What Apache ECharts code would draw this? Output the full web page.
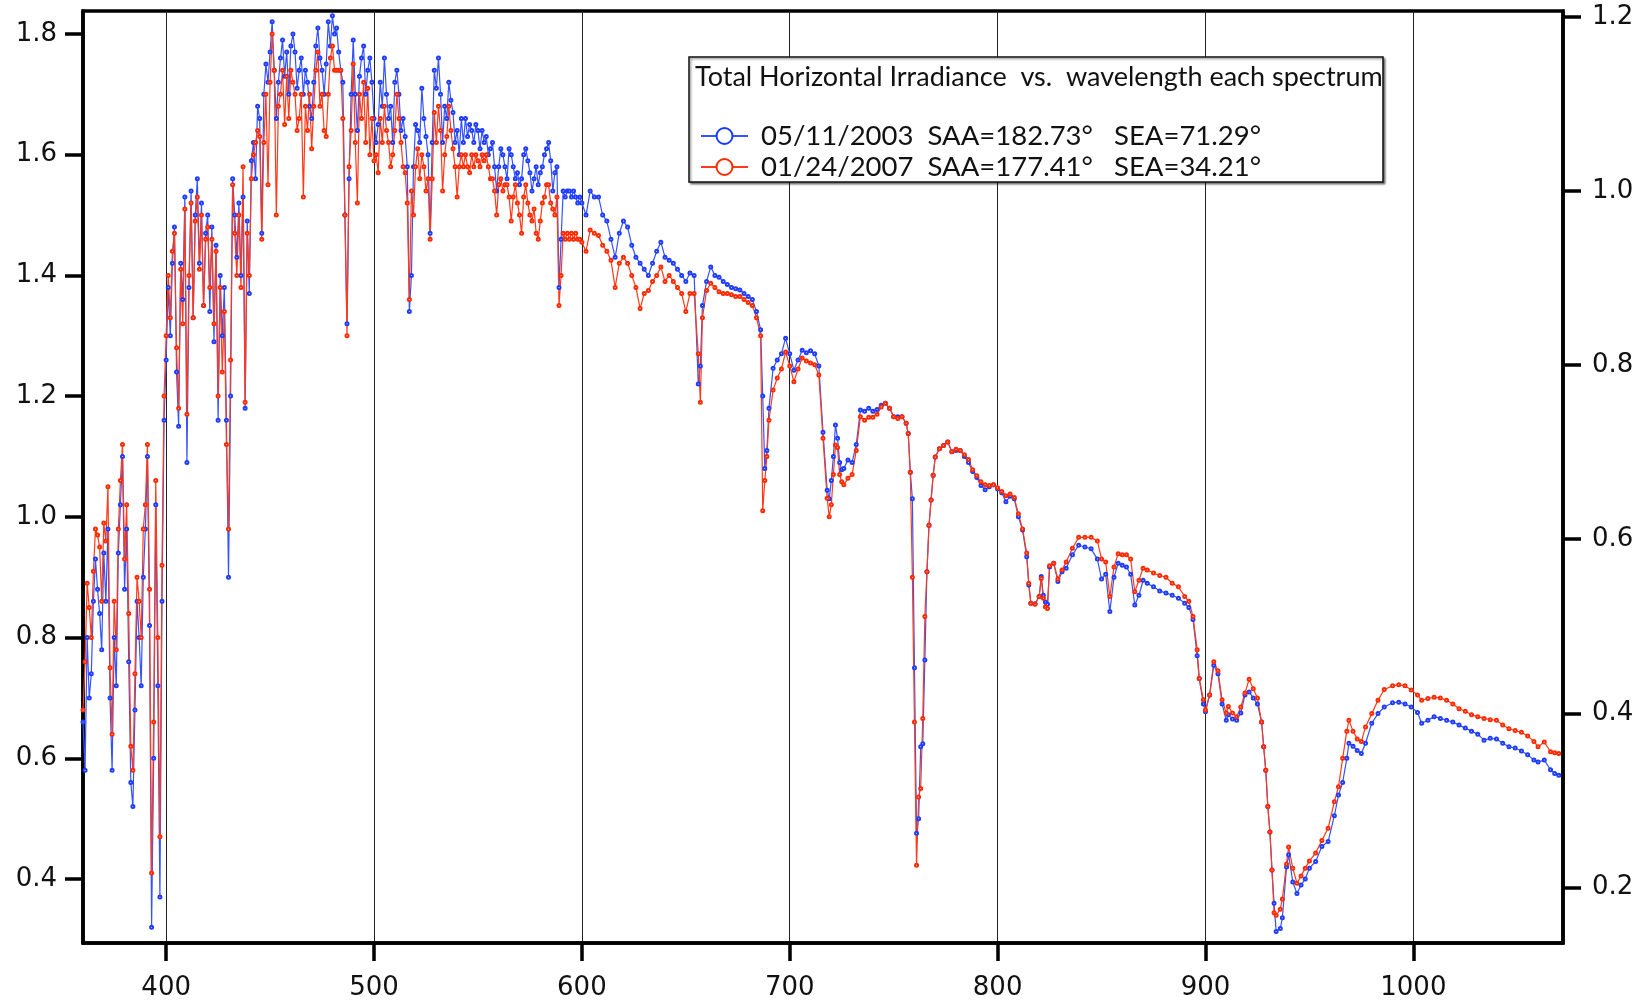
<!DOCTYPE html>
<html><head><meta charset="utf-8">
<script src="https://cdn.jsdelivr.net/npm/echarts@6/dist/echarts.min.js"></script>
<style>html,body{margin:0;padding:0;background:#fff}#chart{width:1650px;height:1005px}</style>
</head><body><div id="chart"></div>
<script>
// ---------- DATA ----------
const name2003 = '05/11/2003  SAA=182.73°   SEA=71.29°';
const name2007 = '01/24/2007  SAA=177.41°   SEA=34.21°';
const chartTitle = 'Total Horizontal Irradiance  vs.  wavelength each spectrum';

const xTicks = [400, 500, 600, 700, 800, 900, 1000];
const leftTicks = [0.4, 0.6, 0.8, 1.0, 1.2, 1.4, 1.6, 1.8];
const rightTicks = [0.2, 0.4, 0.6, 0.8, 1.0, 1.2];

const wavelengthsUV = [
360,361,362,363,364,365,366,367,368,369,
370,371,372,373,374,375,376,377,378,379,
380,381,382,383,384,385,386,387,388,389,
390,391,392,393,394,395,396,397,398,399,
400,401,402,403,404,405,406,407,408,409,
410,411,412,413,414,415,416,417,418,419,
420,421,422,423,424,425,426,427,428,429,
430,431,432,433,434,435,436,437,438,439,
440,441,442,443,444,445,446,447,448,449,
450,451,452,453,454,455,456,457,458,459,
460,461,462,463,464,465,466,467,468,469,
470,471,472,473,474,475,476,477,478,479,
480,481,482,483,484,485,486,487,488,489,
490,491,492,493,494,495,496,497,498,499,
500,501,502,503,504,505,506,507,508,509,
510,511,512,513,514,515,516,517,518,519,
520,521,522,523,524,525,526,527,528,529,
530,531,532,533,534,535,536,537,538,539,
540,541,542,543,544,545,546,547,548,549,
550,551,552,553,554,555,556,557,558,559,
560,561,562,563,564,565,566,567,568,569,
570,571,572,573,574,575,576,577,578,579,
580,581,582,583,584,585,586,587,588,589,
590,591,592,593,594,595,596,597,598,599,600];

const blueUV = [
0.66,0.58,0.80,0.70,0.74,0.86,0.93,0.88,0.84,0.78,
0.94,0.86,0.98,0.70,0.58,0.80,0.72,0.94,1.02,1.10,
0.88,0.98,0.76,0.56,0.52,0.68,0.86,0.80,0.72,0.90,
0.98,1.10,0.82,0.32,0.60,1.02,0.72,0.37,0.86,1.16,
1.26,1.38,1.30,1.42,1.48,1.24,1.15,1.42,1.36,1.53,
1.09,1.38,1.54,1.33,1.50,1.56,1.42,1.52,1.35,1.47,
1.50,1.34,1.48,1.29,1.45,1.16,1.40,1.30,1.38,1.16,
0.90,1.20,1.56,1.50,1.43,1.52,1.40,1.53,1.18,1.49,
1.37,1.59,1.62,1.56,1.68,1.66,1.47,1.70,1.75,1.72,
1.77,1.82,1.74,1.66,1.72,1.76,1.79,1.73,1.77,1.70,
1.78,1.80,1.77,1.71,1.74,1.76,1.70,1.74,1.72,1.68,
1.66,1.72,1.78,1.81,1.76,1.74,1.70,1.75,1.82,1.78,
1.83,1.80,1.81,1.77,1.74,1.72,1.50,1.32,1.56,1.70,
1.79,1.70,1.64,1.73,1.76,1.78,1.70,1.74,1.76,1.72,
1.66,1.62,1.65,1.72,1.68,1.76,1.70,1.66,1.68,1.62,
1.72,1.74,1.70,1.64,1.66,1.63,1.58,1.34,1.40,1.58,
1.65,1.64,1.62,1.71,1.66,1.63,1.60,1.47,1.62,1.74,
1.71,1.76,1.70,1.62,1.68,1.66,1.72,1.69,1.67,1.62,
1.64,1.60,1.66,1.62,1.66,1.63,1.65,1.64,1.62,1.65,
1.64,1.61,1.64,1.62,1.63,1.60,1.61,1.62,1.58,1.54,
1.58,1.61,1.60,1.58,1.56,1.61,1.60,1.58,1.56,1.57,
1.55,1.56,1.60,1.61,1.59,1.57,1.54,1.56,1.58,1.55,
1.57,1.58,1.60,1.61,1.62,1.59,1.54,1.57,1.58,1.38,
1.46,1.54,1.53,1.54,1.54,1.53,1.54,1.53,1.52,1.53,1.52];

const redUV = [
0.68,0.76,0.89,0.85,0.80,0.91,0.98,0.97,0.95,0.86,
0.99,0.96,1.05,0.75,0.64,0.86,0.78,0.98,1.06,1.12,
0.93,1.02,0.84,0.62,0.58,0.74,0.90,0.86,0.80,0.98,
1.02,1.12,0.88,0.41,0.66,1.06,0.80,0.47,0.92,1.20,
1.30,1.40,1.33,1.44,1.47,1.28,1.18,1.41,1.32,1.51,
1.17,1.40,1.52,1.33,1.49,1.53,1.41,1.50,1.35,1.46,
1.48,1.38,1.46,1.32,1.44,1.20,1.38,1.24,1.34,1.12,
0.98,1.26,1.55,1.47,1.40,1.50,1.38,1.58,1.19,1.47,
1.40,1.56,1.60,1.62,1.64,1.63,1.46,1.62,1.70,1.55,
1.72,1.80,1.74,1.50,1.68,1.70,1.74,1.65,1.73,1.66,
1.74,1.72,1.70,1.64,1.66,1.70,1.53,1.68,1.64,1.70,
1.61,1.68,1.74,1.77,1.68,1.70,1.64,1.63,1.70,1.76,
1.78,1.74,1.74,1.74,1.74,1.66,1.50,1.30,1.58,1.64,
1.75,1.62,1.52,1.70,1.66,1.72,1.62,1.71,1.60,1.66,
1.59,1.60,1.57,1.66,1.62,1.68,1.64,1.62,1.58,1.60,
1.64,1.70,1.66,1.62,1.58,1.57,1.52,1.36,1.54,1.50,
1.58,1.61,1.56,1.60,1.58,1.54,1.56,1.46,1.56,1.67,
1.62,1.68,1.64,1.54,1.60,1.63,1.68,1.64,1.61,1.58,
1.53,1.58,1.60,1.58,1.60,1.58,1.57,1.60,1.58,1.60,
1.59,1.58,1.60,1.59,1.60,1.58,1.56,1.56,1.54,1.50,
1.55,1.56,1.54,1.55,1.55,1.53,1.49,1.53,1.55,1.52,
1.50,1.47,1.53,1.55,1.52,1.50,1.49,1.51,1.47,1.46,
1.49,1.52,1.53,1.55,1.55,1.52,1.51,1.50,1.53,1.35,
1.40,1.47,1.46,1.47,1.46,1.47,1.46,1.47,1.46,1.46,1.455];

const wavelengthsNIR = [
602,604,606,608,610,612,614,616,618,620,
622,624,626,628,630,632,634,636,638,640,
642,644,646,648,650,652,654,656,657,658,
660,662,664,666,668,670,672,674,676,678,
680,682,684,686,687,688,689,690,692,694,
696,698,700,702,704,706,708,710,712,714,
716,718,719,720,721,722,723,724,725,726,
728,730,732,734,736,738,740,742,744,746,
748,750,752,754,756,757,758,759,760,761,
762,763,764,765,766,767,768,769,770,772,
774,776,778,780,782,784,786,788,790,792,
794,796,798,800,802,804,806,808,810,812,
814,815,816,818,820,821,822,823,824,825,
827,829,831,833,836,839,842,845,848,850,
852,854,856,858,860,862,864,866,868,870,
872,875,878,881,884,887,890,892,894,896,
897,899,900,902,904,906,908,910,911,913,
915,917,919,921,923,925,927,928,929,930,
931,932,933,934,936,937,939,940,942,944,
946,948,950,953,956,959,962,964,966,968,
969,971,973,975,977,980,983,986,990,993,
996,999,1002,1004,1007,1010,1013,1016,1019,1022,
1025,1028,1031,1034,1037,1040,1043,1046,1049,1052,
1055,1058,1060,1063,1066,1068,1070];

const blueNIR = [
1.50,1.54,1.53,1.53,1.50,1.49,1.46,1.43,1.47,1.49,
1.48,1.45,1.43,1.42,1.41,1.40,1.42,1.44,1.455,1.43,
1.425,1.42,1.41,1.40,1.39,1.404,1.40,1.22,1.25,1.35,
1.39,1.414,1.40,1.397,1.39,1.385,1.38,1.378,1.376,1.37,
1.365,1.36,1.34,1.31,1.20,1.08,1.11,1.18,1.246,1.26,
1.27,1.296,1.27,1.243,1.26,1.276,1.272,1.275,1.27,1.25,
1.14,1.044,1.03,1.06,1.10,1.152,1.13,1.09,1.078,1.08,
1.094,1.09,1.12,1.177,1.175,1.18,1.175,1.178,1.185,1.188,
1.18,1.166,1.166,1.166,1.155,1.138,1.074,1.03,0.75,0.476,
0.50,0.619,0.624,0.763,0.909,0.986,1.028,1.069,1.099,1.113,
1.118,1.124,1.108,1.11,1.11,1.10,1.09,1.075,1.065,1.052,
1.045,1.05,1.053,1.046,1.04,1.025,1.034,1.03,1.0,0.978,
0.934,0.887,0.857,0.856,0.868,0.901,0.87,0.859,0.855,0.917,
0.923,0.893,0.909,0.915,0.937,0.953,0.95,0.947,0.93,0.897,
0.905,0.843,0.90,0.923,0.92,0.917,0.905,0.854,0.87,0.895,
0.89,0.884,0.877,0.874,0.870,0.865,0.857,0.85,0.83,0.77,
0.732,0.69,0.677,0.705,0.754,0.74,0.69,0.663,0.672,0.665,
0.663,0.675,0.705,0.71,0.70,0.69,0.66,0.619,0.58,0.52,
0.478,0.415,0.36,0.313,0.318,0.336,0.42,0.44,0.395,0.376,
0.39,0.40,0.418,0.429,0.454,0.462,0.505,0.539,0.56,0.60,
0.625,0.62,0.613,0.608,0.625,0.658,0.674,0.685,0.692,0.693,
0.69,0.685,0.676,0.658,0.663,0.669,0.666,0.663,0.66,0.655,
0.65,0.645,0.64,0.63,0.633,0.632,0.625,0.619,0.617,0.612,
0.606,0.597,0.594,0.597,0.581,0.575,0.572];

const redNIR = [
1.44,1.475,1.47,1.466,1.45,1.44,1.425,1.38,1.42,1.43,
1.42,1.40,1.38,1.345,1.37,1.375,1.39,1.40,1.414,1.39,
1.40,1.39,1.38,1.37,1.34,1.37,1.37,1.27,1.19,1.33,
1.375,1.387,1.38,1.373,1.37,1.37,1.368,1.365,1.365,1.36,
1.355,1.35,1.33,1.30,1.01,1.06,1.10,1.16,1.21,1.23,
1.245,1.273,1.25,1.224,1.245,1.263,1.258,1.255,1.252,1.235,
1.13,1.031,1.00,1.02,1.07,1.119,1.115,1.07,1.058,1.053,
1.064,1.07,1.11,1.166,1.16,1.165,1.165,1.17,1.182,1.188,
1.18,1.166,1.163,1.166,1.155,1.138,1.074,0.90,0.66,0.423,
0.536,0.550,0.666,0.835,0.909,0.986,1.028,1.069,1.099,1.113,
1.118,1.124,1.108,1.112,1.11,1.103,1.095,1.078,1.068,1.058,
1.053,1.052,1.053,1.048,1.042,1.035,1.038,1.032,1.005,0.98,
0.94,0.89,0.857,0.855,0.868,0.898,0.865,0.851,0.848,0.919,
0.923,0.897,0.912,0.925,0.948,0.966,0.966,0.966,0.96,0.93,
0.925,0.868,0.917,0.939,0.937,0.937,0.93,0.876,0.895,0.915,
0.912,0.907,0.903,0.90,0.89,0.884,0.868,0.86,0.835,0.78,
0.732,0.697,0.68,0.705,0.76,0.745,0.697,0.675,0.686,0.675,
0.669,0.685,0.708,0.731,0.715,0.70,0.66,0.619,0.58,0.52,
0.478,0.415,0.344,0.34,0.35,0.367,0.425,0.453,0.418,0.393,
0.405,0.418,0.43,0.443,0.464,0.484,0.528,0.553,0.60,0.645,
0.663,0.645,0.632,0.628,0.652,0.674,0.696,0.714,0.72,0.722,
0.72,0.713,0.705,0.696,0.699,0.701,0.70,0.696,0.69,0.682,
0.678,0.672,0.669,0.666,0.664,0.663,0.655,0.649,0.646,0.643,
0.637,0.628,0.619,0.627,0.611,0.609,0.608];

// ---------- BUILD ----------
function zip(xs, ys) { return xs.map((x, i) => [x, ys[i]]); }
const wl = wavelengthsUV.concat(wavelengthsNIR);
const blueData = zip(wl, blueUV.concat(blueNIR));
const redData = zip(wl, redUV.concat(redNIR));

const AXIS_FONT = 'DejaVu Sans';
const LEG_FONT = 'Lato';
const axisLineStyle = { color: '#000', width: 3.5 };

const chart = echarts.init(document.getElementById('chart'), null, { renderer: 'canvas' });
chart.setOption({
  animation: false,
  backgroundColor: '#fff',
  grid: { left: 83, right: 87, top: 11, bottom: 62, show: true, borderColor: '#000', borderWidth: 3.5 },
  title: {
    text: chartTitle, left: 695, top: 64, padding: 0,
    textStyle: { fontFamily: LEG_FONT, fontSize: 27, fontWeight: 'normal', color: '#111' }
  },
  legend: {
    orient: 'vertical', left: 700, top: 122, padding: 0,
    itemWidth: 47, itemHeight: 20, itemGap: 3, selectedMode: false,
    textStyle: { fontFamily: LEG_FONT, fontSize: 27.5, color: '#111', lineHeight: 27, padding: [0, 0, 0, 8] },
    data: [name2003, name2007]
  },
  graphic: [{
    type: 'rect', z: 3,
    shape: { x: 689, y: 57, width: 694, height: 125 },
    style: { fill: '#fff', stroke: '#111', lineWidth: 1.5,
      shadowColor: 'rgba(0,0,0,0.45)', shadowBlur: 2, shadowOffsetX: 1.5, shadowOffsetY: 1.5 }
  }],
  xAxis: {
    type: 'value', min: 360, max: 1072,
    axisLine: { show: true, onZero: false, lineStyle: axisLineStyle },
    axisTick: { show: true, length: 18, lineStyle: axisLineStyle, customValues: xTicks },
    axisLabel: { customValues: xTicks, margin: 32, fontFamily: AXIS_FONT, fontSize: 26, color: '#111',
      formatter: v => String(v) },
    splitLine: { show: true, lineStyle: { color: '#222', width: 1 } }
  },
  yAxis: [{
    type: 'value', position: 'left', min: 0.294, max: 1.838,
    axisLine: { show: true, onZero: false, lineStyle: axisLineStyle },
    axisTick: { show: true, length: 18, lineStyle: axisLineStyle, customValues: leftTicks },
    axisLabel: { customValues: leftTicks, margin: 26, fontFamily: AXIS_FONT, fontSize: 26, color: '#111',
      formatter: v => v.toFixed(1) },
    splitLine: { show: false }
  }, {
    type: 'value', position: 'right', min: 0.136, max: 1.207,
    axisLine: { show: true, onZero: false, lineStyle: axisLineStyle },
    axisTick: { show: true, length: 18, lineStyle: axisLineStyle, customValues: rightTicks },
    axisLabel: { customValues: rightTicks, margin: 29, fontFamily: AXIS_FONT, fontSize: 26, color: '#111',
      formatter: v => v.toFixed(1) },
    splitLine: { show: false }
  }],
  series: [{
    name: name2003, type: 'line', yAxisIndex: 0, data: blueData,
    symbol: 'emptyCircle', symbolSize: 3, showSymbol: true,
    itemStyle: { color: '#1e3cff', borderWidth: 1.6 },
    lineStyle: { color: '#3552ff', width: 1.2 },
    emphasis: { disabled: true }, z: 2
  }, {
    name: name2007, type: 'line', yAxisIndex: 0, data: redData,
    symbol: 'emptyCircle', symbolSize: 3, showSymbol: true,
    itemStyle: { color: '#ff2a00', borderWidth: 1.6 },
    lineStyle: { color: '#ff3a1a', width: 1.2 },
    emphasis: { disabled: true }, z: 2
  }]
});
</script>
</body></html>
